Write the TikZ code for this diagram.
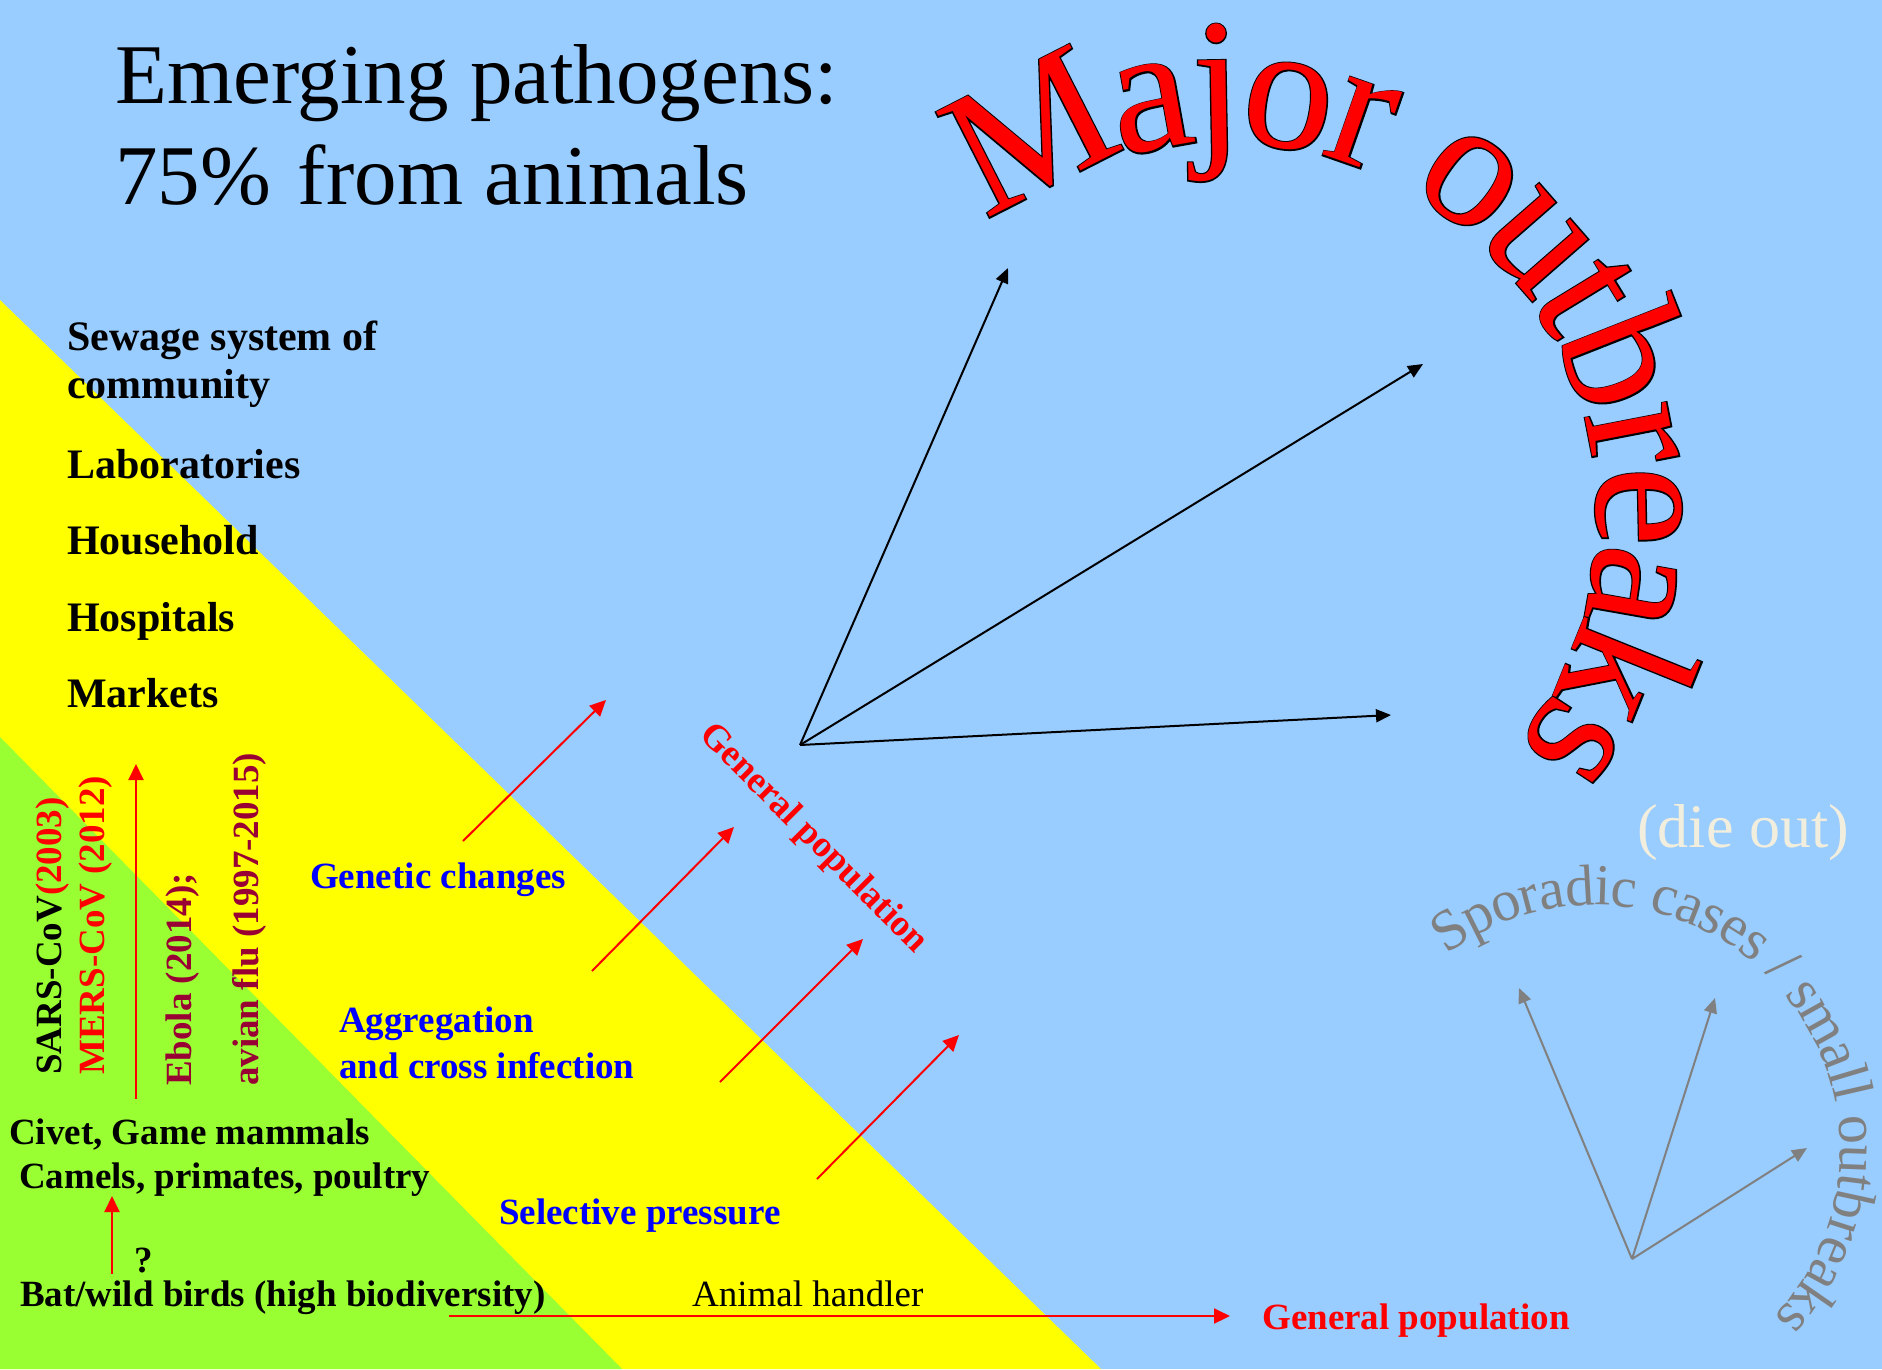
\documentclass[tikz,border=0pt]{standalone}
\usepackage{fontspec}
\setmainfont{Liberation Serif}
\newfontfamily\outlinefam[FakeBold=1.5]{Liberation Serif}
\newfontfamily\arcfam{Liberation Serif}
\usetikzlibrary{arrows.meta,decorations.text}
\definecolor{skyclr}{RGB}{153,204,255}
\definecolor{sunclr}{RGB}{255,255,0}
\definecolor{leafclr}{RGB}{153,255,51}
\definecolor{alertclr}{RGB}{255,0,0}
\definecolor{stepclr}{RGB}{0,0,255}
\definecolor{diseaseclr}{RGB}{153,0,51}
\definecolor{sporclr}{RGB}{128,128,128}
\definecolor{fadeclr}{RGB}{242,238,222}
\newcommand\majorfont{\arcfam\fontsize{180}{180}\selectfont}
\newcommand\majoroutline{\outlinefam\fontsize{180}{180}\selectfont}
\newcommand\sporfont{\arcfam\fontsize{58}{58}\selectfont}
\tikzset{
  lbl/.style={inner sep=0pt, anchor=base west, align=left,
              font=\fontsize{37}{46}\selectfont\bfseries},
  setting/.style={lbl, font=\fontsize{42}{48}\selectfont\bfseries},
  vlbl/.style={lbl, rotate=90},
  redarrow/.style={draw=alertclr, line width=2pt, -{Triangle[length=16pt,width=15pt]}},
  fanarrow/.style={draw=black, line width=2pt, -{Triangle[length=15pt,width=13pt]}},
  sporarrow/.style={draw=sporclr, line width=2pt, -{Triangle[length=15pt,width=13pt]}}
}
\begin{document}
\begin{tikzpicture}[x=1pt, y=-1pt]
  \fill[skyclr] (0,0) rectangle (1882,1369);
  \fill[sunclr] (0,300) -- (1101,1369) -- (0,1369) -- cycle;
  \fill[leafclr] (0,737) -- (622,1369) -- (0,1369) -- cycle;
  \useasboundingbox (0,0) rectangle (1882,1369);

  \node[inner sep=0pt, anchor=base west, align=left, font=\fontsize{85}{101}\selectfont]
    (title) at (115,204) {Emerging pathogens:\\75\%\hspace{27pt}from animals};

  \node[setting] (sewage) at (67,398) {Sewage system of\\community};
  \node[setting] (labs) at (67,478) {Laboratories};
  \node[setting] (household) at (67,554) {Household};
  \node[setting] (hospitals) at (67,631) {Hospitals};
  \node[setting] (markets) at (67,707) {Markets};

  \node[vlbl] (sars) at (61,1075) {SARS-CoV\textcolor{alertclr}{(2003)}};
  \node[vlbl, text=alertclr] (mers) at (104,1075) {MERS-CoV (2012)};
  \node[vlbl, text=diseaseclr] (ebola) at (191,1086) {Ebola (2014);};
  \node[vlbl, text=diseaseclr] (avian) at (258,1086) {avian flu (1997-2015)};

  \node[lbl] (civet) at (9,1144) {Civet, Game mammals};
  \node[lbl] (camels) at (19,1188) {Camels, primates, poultry};
  \node[lbl] (query) at (134,1272) {?};
  \node[lbl] (bat) at (20,1306) {Bat/wild birds (high biodiversity)};

  \node[lbl, text=stepclr] (genetic) at (310,888) {Genetic changes};
  \node[lbl, text=stepclr] (aggregation) at (339,1078) {Aggregation\\and cross infection};
  \node[lbl, text=stepclr] (selective) at (499,1224) {Selective pressure};
  \node[lbl, font=\fontsize{37}{46}\selectfont] (handler) at (692,1306) {Animal handler};
  \node[lbl, text=alertclr] (genpop) at (1262,1329) {General population};
  \node[lbl, text=alertclr, anchor=center, rotate=-45] (genpoprot) at (813,839) {General population};
  \node[lbl, font=\fontsize{62}{62}\selectfont, text=fadeclr] (dieout) at (1637,847) {(die out)};

  % arrow ends
  \coordinate (civetup) at (136,1099);
  \coordinate (marketsdown) at (136,764);
  \coordinate (batup) at (112,1274);
  \coordinate (camelsdown) at (112,1196);
  \coordinate (handlerstart) at (449,1316);
  \coordinate (handlerend) at (1230,1316);
  \coordinate (drv1) at (463,841);   \coordinate (gp1) at (606,700);
  \coordinate (drv2) at (592,971);   \coordinate (gp2) at (734,827);
  \coordinate (drv3) at (720,1082);  \coordinate (gp3) at (863,939);
  \coordinate (drv4) at (817,1179);  \coordinate (gp4) at (959,1035);
  \coordinate (hub) at (800,745);
  \coordinate (maj1) at (1008,268);
  \coordinate (maj2) at (1423,364);
  \coordinate (maj3) at (1391,715);
  \coordinate (sporhub) at (1632,1259);
  \coordinate (spor1) at (1519,988);
  \coordinate (spor2) at (1715,998);
  \coordinate (spor3) at (1807,1148);

  \draw[redarrow] (civetup) -- (marketsdown);
  \draw[redarrow] (batup) -- (camelsdown);
  \draw[redarrow] (handlerstart) -- (handlerend);
  \foreach \i in {1,...,4}
    \draw[redarrow] (drv\i) -- (gp\i);
  \foreach \tip in {maj1,maj2,maj3}
    \draw[fanarrow] (hub) -- (\tip);
  \foreach \tip in {spor1,spor2,spor3}
    \draw[sporarrow] (sporhub) -- (\tip);

  % arched titles
  \path[decorate, decoration={text along path, text={|\majoroutline|Major outbreaks},
        text color=black, raise=-43pt, text align=fit to path}]
    (1225,515) ++(-128:415) arc[start angle=-128, end angle=38, radius=415];
  \path[decorate, decoration={text along path, text={|\majorfont|Major outbreaks},
        text color=alertclr, raise=-43pt, text align=fit to path}]
    (1225,515) ++(-128:415) arc[start angle=-128, end angle=38, radius=415];
  \path[decorate, decoration={text along path, text={|\sporfont|Sporadic cases / small outbreaks},
        text color=sporclr, raise=-17pt, text align=fit to path}]
    (1595,1150) ++(-127:262) arc[start angle=-127, end angle=43, radius=262];
\end{tikzpicture}
\end{document}
